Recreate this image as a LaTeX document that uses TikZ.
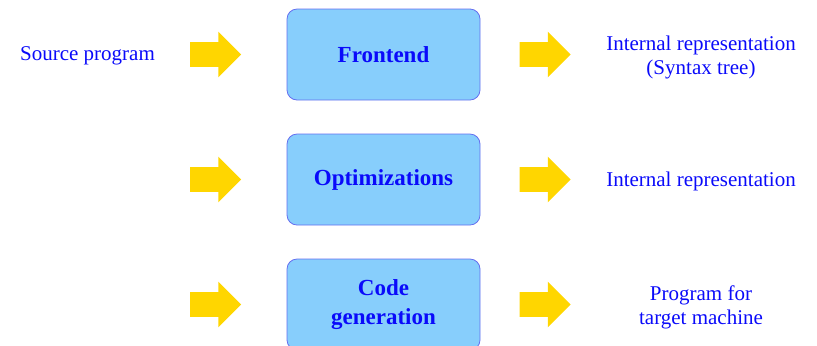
\documentclass[tikz,border=0pt]{standalone}
\usepackage{fontspec}
\setmainfont{Liberation Serif}
\usepackage{xcolor}
\usepackage{tikz}
\usetikzlibrary{shapes.arrows}
\definecolor{boxfill}{RGB}{135,206,252}
\definecolor{boxline}{RGB}{100,110,240}
\definecolor{txtblue}{RGB}{10,10,250}
\definecolor{arrgold}{RGB}{255,214,0}
\tikzset{
  phase/.style={draw=boxline,fill=boxfill,rounded corners=5pt,minimum width=96.5pt,minimum height=45.5pt,align=center,font=\fontsize{11.5}{14.5}\selectfont\bfseries,text=txtblue},
  bigarr/.style={single arrow,fill=arrgold,draw=none,inner xsep=0pt,inner ysep=6pt,minimum height=25.5pt,single arrow head extend=5.25pt},
  lbl/.style={align=center,text=txtblue,font=\fontsize{10.5}{12}\selectfont}
}

\begin{document}
\begin{tikzpicture}[x=0.5pt,y=-0.5pt]
	\useasboundingbox (0,0) rectangle (817,345);
	% row 1
	\node[lbl] (src) at (87.5,56) {Source program};
	\node[bigarr] (in1) at (209.5,54.5) {};
	\node[phase] (front) at (383.5,54.5) {Frontend};
	\node[bigarr] (out1) at (539,54.5) {};
	\node[lbl] (ir1) at (701,57) {Internal representation\\(Syntax tree)};
	% row 2
	\node[bigarr] (in2) at (209.5,179.5) {};
	\node[phase] (opt) at (383.5,179.5) {Optimizations};
	\node[bigarr] (out2) at (539,179.5) {};
	\node[lbl] (ir2) at (701,181) {Internal representation};
	% row 3
	\node[bigarr] (in3) at (209.5,304.5) {};
	\node[phase] (cgen) at (383.5,304.5) {Code\\generation};
	\node[bigarr] (out3) at (539,304.5) {};
	\node[lbl] (tgt) at (701,307) {Program for\\target machine};
\end{tikzpicture}
\end{document}
